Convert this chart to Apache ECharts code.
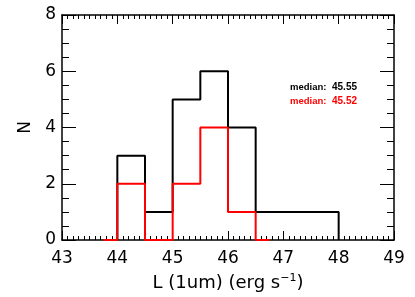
<!DOCTYPE html>
<html><head><meta charset="utf-8">
<script src="https://cdn.jsdelivr.net/npm/echarts@6/dist/echarts.min.js"></script>
<style>html,body{margin:0;padding:0;background:#fff}#c{width:415px;height:297px}</style>
</head><body><div id="c"></div>
<script>
// Histogram data (bin edges and counts)
var blackEdges = [44, 44.5, 45, 45.5, 46, 46.5, 47, 47.5, 48];
var blackCounts = [3, 1, 5, 6, 4, 1, 1, 1];
var redEdges = [43.75, 44, 44.5, 45, 45.5, 46, 46.5, 46.75];
var redCounts = [0, 2, 0, 2, 4, 1, 0];
var xTicks = [43, 44, 45, 46, 47, 48, 49];
var yTicks = [0, 2, 4, 6, 8];
var medianBlack = '45.55';
var medianRed = '45.52';

function stepPoints(edges, counts) {
  var pts = [[edges[0], 0]];
  for (var i = 0; i < counts.length; i++) {
    pts.push([edges[i], counts[i]]);
    pts.push([edges[i + 1], counts[i]]);
  }
  pts.push([edges[edges.length - 1], 0]);
  return pts;
}

var font = 'DejaVu Sans, Liberation Sans, Arial, sans-serif';
var sfont = 'Liberation Sans, Arial, sans-serif';
var chart = echarts.init(document.getElementById('c'), null, {renderer: 'canvas'});
var axisLine = {show: true, onZero: false, lineStyle: {color: '#000', width: 1.5}};
chart.setOption({
  animation: false,
  grid: {left: 62, right: 21, top: 15, bottom: 54, containLabel: false},
  xAxis: [{
    type: 'value', min: xTicks[0], max: xTicks[xTicks.length - 1], interval: 1,
    position: 'bottom',
    axisLine: axisLine,
    axisTick: {show: true, inside: true, length: 9, lineStyle: {color: '#000', width: 1}},
    minorTick: {show: true, splitNumber: 10, length: 4, lineStyle: {color: '#000', width: 1}},
    splitLine: {show: false},
    axisLabel: {color: '#000', fontFamily: font, fontSize: 17, margin: 10},
    name: '{a|L (1um) (erg s}{s|−1}{a|)}',
    nameLocation: 'middle', nameGap: 33,
    nameTextStyle: {rich: {
      a: {fontFamily: font, fontSize: 18, color: '#000'},
      s: {fontFamily: font, fontSize: 11, color: '#000', verticalAlign: 'top', lineHeight: 20, padding: [0,0,8,0]}
    }}
  }, {
    type: 'value', min: xTicks[0], max: xTicks[xTicks.length - 1], interval: 1,
    position: 'top',
    axisLine: axisLine,
    axisTick: {show: true, inside: true, length: 9, lineStyle: {color: '#000', width: 1}},
    minorTick: {show: true, splitNumber: 10, length: 4, lineStyle: {color: '#000', width: 1}},
    splitLine: {show: false},
    axisLabel: {show: false}
  }],
  yAxis: [{
    type: 'value', min: yTicks[0], max: yTicks[yTicks.length - 1], interval: 2,
    position: 'left',
    axisLine: axisLine,
    axisTick: {show: true, inside: true, length: 14, lineStyle: {color: '#000', width: 1}},
    minorTick: {show: true, splitNumber: 4, length: 7, lineStyle: {color: '#000', width: 1}},
    splitLine: {show: false},
    axisLabel: {color: '#000', fontFamily: font, fontSize: 17, margin: 6},
    name: 'N', nameLocation: 'middle', nameGap: 26,
    nameTextStyle: {fontFamily: font, fontSize: 17, color: '#000'}
  }, {
    type: 'value', min: yTicks[0], max: yTicks[yTicks.length - 1], interval: 2,
    position: 'right',
    axisLine: axisLine,
    axisTick: {show: true, inside: true, length: 14, lineStyle: {color: '#000', width: 1}},
    minorTick: {show: true, splitNumber: 4, length: 7, lineStyle: {color: '#000', width: 1}},
    splitLine: {show: false},
    axisLabel: {show: false}
  }],
  series: [{
    type: 'line', xAxisIndex: 0, yAxisIndex: 0,
    data: stepPoints(blackEdges, blackCounts),
    showSymbol: false, lineStyle: {color: '#000', width: 2}, z: 3
  }, {
    type: 'line', xAxisIndex: 0, yAxisIndex: 0,
    data: stepPoints(redEdges, redCounts),
    showSymbol: false, lineStyle: {color: '#ff0000', width: 2}, z: 4
  }],
  graphic: [
    {type: 'text', left: 290, top: 82, style: {text: 'median:', fill: '#000', font: 'bold 9.5px ' + sfont}},
    {type: 'text', left: 332, top: 82, style: {text: medianBlack, fill: '#000', font: 'bold 10px ' + sfont}},
    {type: 'text', left: 290, top: 96, style: {text: 'median:', fill: '#ff0000', font: 'bold 9.5px ' + sfont}},
    {type: 'text', left: 332, top: 96, style: {text: medianRed, fill: '#ff0000', font: 'bold 10px ' + sfont}}
  ]
});
</script></body></html>
